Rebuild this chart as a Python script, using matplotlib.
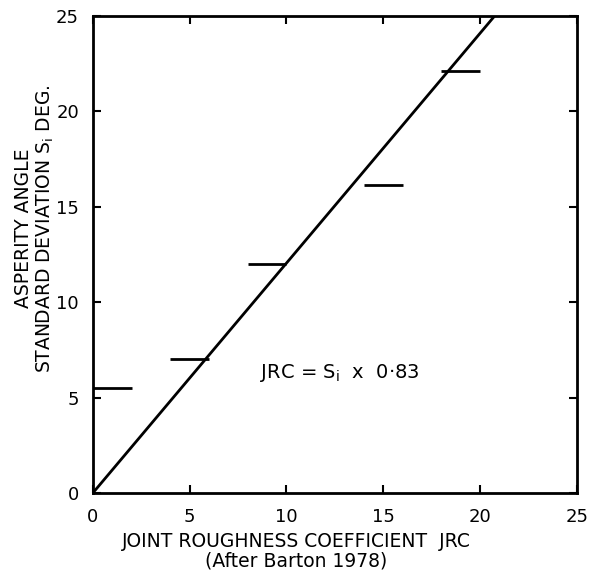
import matplotlib
matplotlib.use("Agg")
import matplotlib.pyplot as plt

# Data
seg_x0 = [0, 4, 8, 14, 18]
seg_x1 = [2, 6, 10, 16, 20]
seg_y = [5.5, 7.05, 12.0, 16.15, 22.1]
ratio = 0.83
jrc_line = [0, 25 * ratio]

fig = plt.figure(figsize=(5.91, 5.74), dpi=100)
ax = fig.add_axes([0.157, 0.141, 0.819, 0.831])

# Fitted line: JRC = S_i x 0.83
ax.plot(jrc_line, [x / ratio for x in jrc_line], color="black", linewidth=2)

# Horizontal bars for each JRC range
ax.hlines(seg_y, seg_x0, seg_x1, color="black", linewidth=2)

ax.text(12.75, 6.3, "JRC = S$_\\mathrm{i}$  x  0·83", fontsize=14,
        ha="center", va="center")

ax.set_xlim(0, 25)
ax.set_ylim(0, 25)
ax.set_xticks([0, 5, 10, 15, 20, 25])
ax.set_yticks([0, 5, 10, 15, 20, 25])

ax.tick_params(direction="in", top=True, right=True, length=6, width=1.5,
               labelsize=13)
ax.tick_params(axis="x", pad=11)
ax.tick_params(axis="y", pad=10)
for s in ax.spines.values():
    s.set_linewidth(2)

ax.set_xlabel("JOINT ROUGHNESS COEFFICIENT  JRC\n(After Barton 1978)",
              fontsize=13.5, linespacing=1.0)
ax.set_ylabel("ASPERITY ANGLE\nSTANDARD DEVIATION S$_\\mathrm{i}$ DEG.",
              fontsize=13.5, linespacing=1.05)
# labels sit a bit off-centre in the original
ax.xaxis.set_label_coords(0.42, -0.082)
ax.yaxis.set_label_coords(-0.077, 0.555)

fig.savefig("out.png", dpi=100)
